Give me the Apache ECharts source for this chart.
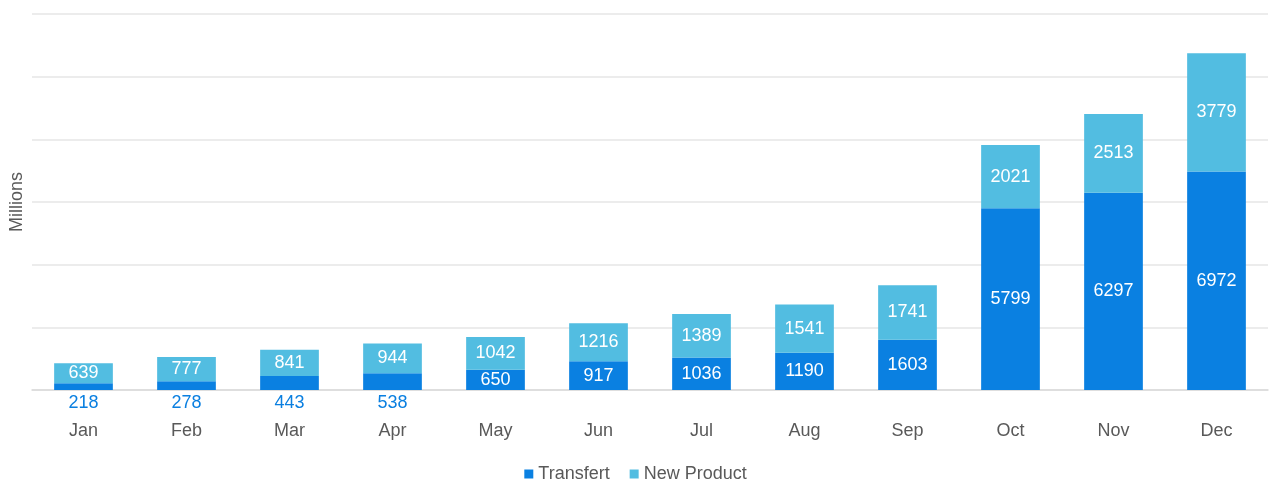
<!DOCTYPE html>
<html>
<head>
<meta charset="utf-8">
<script src="https://cdn.jsdelivr.net/npm/echarts@6/dist/echarts.min.js"></script>
<style>
  html, body { margin: 0; padding: 0; background: #fff; }
  #chart { width: 1271px; height: 483px; }
</style>
</head>
<body>
<div id="chart"></div>
<script>
const months = ['Jan', 'Feb', 'Mar', 'Apr', 'May', 'Jun', 'Jul', 'Aug', 'Sep', 'Oct', 'Nov', 'Dec'];
const transfert = [218, 278, 443, 538, 650, 917, 1036, 1190, 1603, 5799, 6297, 6972];
const newProduct = [639, 777, 841, 944, 1042, 1216, 1389, 1541, 1741, 2021, 2513, 3779];

const chart = echarts.init(document.getElementById('chart'));
const font = 'Liberation Sans, Arial, sans-serif';

// small bars get their label under the axis, in blue
const transfertData = transfert.map(v => v < 600
  ? {value: v, label: {position: 'bottom', color: '#0a7fe0', distance: 4}}
  : v);

chart.setOption({
  animation: false,
  textStyle: {fontFamily: font},
  grid: {left: 29, right: 3, top: 14, bottom: 93},
  legend: {
    top: 465,
    left: 'center',
    padding: 0,
    itemWidth: 9,
    itemHeight: 9,
    itemGap: 20,
    icon: 'rect',
    textStyle: {fontSize: 18, color: '#595959', fontFamily: font}
  },
  xAxis: {
    type: 'category',
    data: months,
    axisTick: {show: false},
    axisLine: {lineStyle: {color: '#d9d9d9', width: 1.5}},
    axisLabel: {fontSize: 18, color: '#595959', margin: 32, fontFamily: font}
  },
  yAxis: {
    type: 'value',
    min: 0,
    max: 12000,
    interval: 2000,
    name: 'Millions',
    nameLocation: 'middle',
    nameGap: 6,
    nameTextStyle: {fontSize: 18, color: '#595959', fontFamily: font},
    axisLabel: {show: false},
    axisLine: {show: false},
    axisTick: {show: false},
    splitLine: {lineStyle: {color: '#e6e6e6', width: 1.5}}
  },
  series: [
    {
      name: 'Transfert',
      type: 'bar',
      stack: 'total',
      barWidth: '57%',
      data: transfertData,
      itemStyle: {color: '#0a80e1'},
      label: {show: true, position: 'inside', color: '#fff', fontSize: 18, fontFamily: font}
    },
    {
      name: 'New Product',
      type: 'bar',
      stack: 'total',
      data: newProduct,
      itemStyle: {color: '#52bde1'},
      label: {show: true, position: 'inside', color: '#fff', fontSize: 18, fontFamily: font}
    }
  ]
});
</script>
</body>
</html>
